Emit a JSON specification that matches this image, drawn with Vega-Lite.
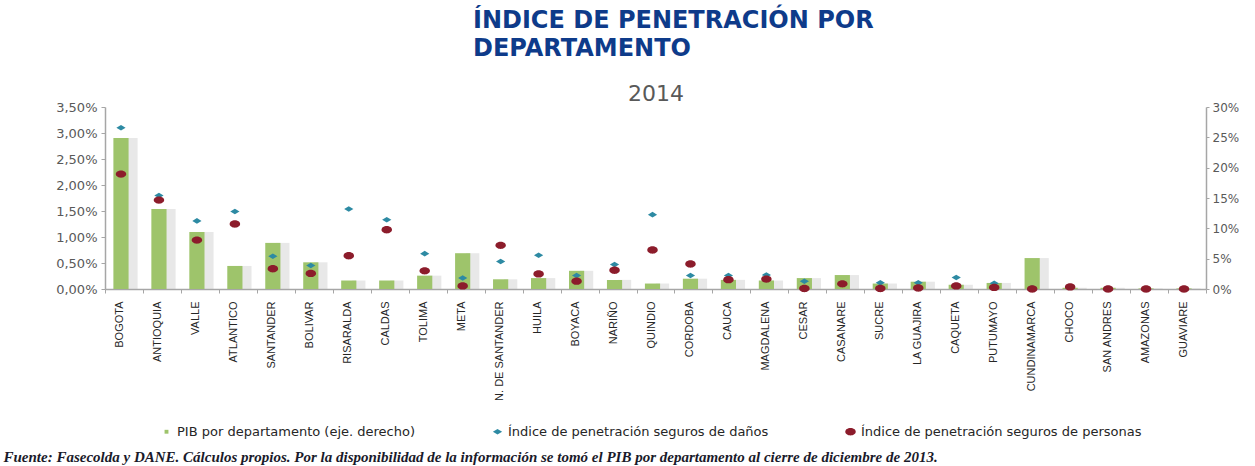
{
  "$schema": "https://vega.github.io/schema/vega-lite/v6.json",
  "width": 1101,
  "height": 182,
  "autosize": {"type": "none"},
  "padding": {"left": 105, "top": 107, "right": 49, "bottom": 177},
  "background": "white",
  "config": {
    "locale": {"number": {"decimal": ",", "thousands": ".", "grouping": [3], "currency": ["$", ""]}},
    "view": {"stroke": null},
    "font": "DejaVu Sans"
  },
  "title": {
    "text": ["ÍNDICE DE PENETRACIÓN POR", "DEPARTAMENTO"],
    "anchor": "start",
    "frame": "group",
    "dx": 368,
    "offset": 21,
    "font": "DejaVu Sans",
    "fontSize": 24,
    "fontWeight": "bold",
    "color": "#0e3b8a",
    "lineHeight": 28
  },
  "data": {
    "values": [
      {"d": "BOGOTA", "s": "pib", "v": 0.249},
      {"d": "ANTIOQUIA", "s": "pib", "v": 0.132},
      {"d": "VALLE", "s": "pib", "v": 0.094},
      {"d": "ATLANTICO", "s": "pib", "v": 0.038},
      {"d": "SANTANDER", "s": "pib", "v": 0.076},
      {"d": "BOLIVAR", "s": "pib", "v": 0.044},
      {"d": "RISARALDA", "s": "pib", "v": 0.014},
      {"d": "CALDAS", "s": "pib", "v": 0.014},
      {"d": "TOLIMA", "s": "pib", "v": 0.022},
      {"d": "META", "s": "pib", "v": 0.059},
      {"d": "N. DE SANTANDER", "s": "pib", "v": 0.016},
      {"d": "HUILA", "s": "pib", "v": 0.018},
      {"d": "BOYACA", "s": "pib", "v": 0.030},
      {"d": "NARIÑO", "s": "pib", "v": 0.015},
      {"d": "QUINDIO", "s": "pib", "v": 0.009},
      {"d": "CORDOBA", "s": "pib", "v": 0.017},
      {"d": "CAUCA", "s": "pib", "v": 0.015},
      {"d": "MAGDALENA", "s": "pib", "v": 0.014},
      {"d": "CESAR", "s": "pib", "v": 0.018},
      {"d": "CASANARE", "s": "pib", "v": 0.023},
      {"d": "SUCRE", "s": "pib", "v": 0.009},
      {"d": "LA GUAJIRA", "s": "pib", "v": 0.012},
      {"d": "CAQUETA", "s": "pib", "v": 0.007},
      {"d": "PUTUMAYO", "s": "pib", "v": 0.010},
      {"d": "CUNDINAMARCA", "s": "pib", "v": 0.051},
      {"d": "CHOCO", "s": "pib", "v": 0.002},
      {"d": "SAN ANDRES", "s": "pib", "v": 0.002},
      {"d": "AMAZONAS", "s": "pib", "v": 0.001},
      {"d": "GUAVIARE", "s": "pib", "v": 0.001},
      {"d": "BOGOTA", "s": "danos", "v": 0.0310},
      {"d": "ANTIOQUIA", "s": "danos", "v": 0.0180},
      {"d": "VALLE", "s": "danos", "v": 0.0131},
      {"d": "ATLANTICO", "s": "danos", "v": 0.0149},
      {"d": "SANTANDER", "s": "danos", "v": 0.0063},
      {"d": "BOLIVAR", "s": "danos", "v": 0.0045},
      {"d": "RISARALDA", "s": "danos", "v": 0.0154},
      {"d": "CALDAS", "s": "danos", "v": 0.0133},
      {"d": "TOLIMA", "s": "danos", "v": 0.0068},
      {"d": "META", "s": "danos", "v": 0.0021},
      {"d": "N. DE SANTANDER", "s": "danos", "v": 0.0053},
      {"d": "HUILA", "s": "danos", "v": 0.0065},
      {"d": "BOYACA", "s": "danos", "v": 0.0026},
      {"d": "NARIÑO", "s": "danos", "v": 0.0047},
      {"d": "QUINDIO", "s": "danos", "v": 0.0143},
      {"d": "CORDOBA", "s": "danos", "v": 0.0026},
      {"d": "CAUCA", "s": "danos", "v": 0.0026},
      {"d": "MAGDALENA", "s": "danos", "v": 0.0027},
      {"d": "CESAR", "s": "danos", "v": 0.0015},
      {"d": "CASANARE", "s": "danos", "v": 0.0010},
      {"d": "SUCRE", "s": "danos", "v": 0.0012},
      {"d": "LA GUAJIRA", "s": "danos", "v": 0.0012},
      {"d": "CAQUETA", "s": "danos", "v": 0.0022},
      {"d": "PUTUMAYO", "s": "danos", "v": 0.0011},
      {"d": "CUNDINAMARCA", "s": "danos", "v": 0.0002},
      {"d": "CHOCO", "s": "danos", "v": 0.0003},
      {"d": "SAN ANDRES", "s": "danos", "v": 0.0001},
      {"d": "AMAZONAS", "s": "danos", "v": 0.0001},
      {"d": "GUAVIARE", "s": "danos", "v": 0.0001},
      {"d": "BOGOTA", "s": "personas", "v": 0.0221},
      {"d": "ANTIOQUIA", "s": "personas", "v": 0.0171},
      {"d": "VALLE", "s": "personas", "v": 0.0094},
      {"d": "ATLANTICO", "s": "personas", "v": 0.0125},
      {"d": "SANTANDER", "s": "personas", "v": 0.0039},
      {"d": "BOLIVAR", "s": "personas", "v": 0.0030},
      {"d": "RISARALDA", "s": "personas", "v": 0.0064},
      {"d": "CALDAS", "s": "personas", "v": 0.0114},
      {"d": "TOLIMA", "s": "personas", "v": 0.0035},
      {"d": "META", "s": "personas", "v": 0.0006},
      {"d": "N. DE SANTANDER", "s": "personas", "v": 0.0084},
      {"d": "HUILA", "s": "personas", "v": 0.0029},
      {"d": "BOYACA", "s": "personas", "v": 0.0015},
      {"d": "NARIÑO", "s": "personas", "v": 0.0036},
      {"d": "QUINDIO", "s": "personas", "v": 0.0075},
      {"d": "CORDOBA", "s": "personas", "v": 0.0048},
      {"d": "CAUCA", "s": "personas", "v": 0.0018},
      {"d": "MAGDALENA", "s": "personas", "v": 0.0019},
      {"d": "CESAR", "s": "personas", "v": 0.0001},
      {"d": "CASANARE", "s": "personas", "v": 0.0010},
      {"d": "SUCRE", "s": "personas", "v": 0.0001},
      {"d": "LA GUAJIRA", "s": "personas", "v": 0.0002},
      {"d": "CAQUETA", "s": "personas", "v": 0.0006},
      {"d": "PUTUMAYO", "s": "personas", "v": 0.0003},
      {"d": "CUNDINAMARCA", "s": "personas", "v": 0.0000},
      {"d": "CHOCO", "s": "personas", "v": 0.0004},
      {"d": "SAN ANDRES", "s": "personas", "v": 0.0000},
      {"d": "AMAZONAS", "s": "personas", "v": 0.0000},
      {"d": "GUAVIARE", "s": "personas", "v": 0.0000}
    ]
  },
  "layer": [
    {
      "transform": [{"filter": "datum.s == 'pib'"}],
      "mark": {"type": "bar", "width": {"band": 0.35}, "xOffset": 7, "fill": "#bdbdbd", "opacity": 0.35},
      "encoding": {
        "x": {
          "field": "d",
          "type": "nominal",
          "axis": null,
          "scale": {
            "domain": ["BOGOTA", "ANTIOQUIA", "VALLE", "ATLANTICO", "SANTANDER", "BOLIVAR", "RISARALDA", "CALDAS", "TOLIMA", "META", "N. DE SANTANDER", "HUILA", "BOYACA", "NARIÑO", "QUINDIO", "CORDOBA", "CAUCA", "MAGDALENA", "CESAR", "CASANARE", "SUCRE", "LA GUAJIRA", "CAQUETA", "PUTUMAYO", "CUNDINAMARCA", "CHOCO", "SAN ANDRES", "AMAZONAS", "GUAVIARE"],
            "paddingInner": 0,
            "paddingOuter": 0
          }
        },
        "y": {"field": "v", "type": "quantitative", "scale": {"domain": [0, 0.3]}, "axis": null}
      }
    },
    {
      "transform": [{"filter": "datum.s == 'pib'"}],
      "mark": {"type": "bar", "width": {"band": 0.4}, "xOffset": -3},
      "encoding": {
        "x": {
          "field": "d",
          "type": "nominal",
          "axis": {
            "orient": "bottom",
            "labelAngle": -90,
            "labelFont": "Liberation Sans",
            "labelFontSize": 11,
            "labelColor": "#262626",
            "labelPadding": 8,
            "labelOffset": -4,
            "tickBand": "extent",
            "tickSize": 4,
            "tickColor": "#a6a6a6",
            "domainColor": "#a6a6a6",
            "domainWidth": 1.5,
            "title": "Fuente: Fasecolda y DANE. Cálculos propios. Por la disponibilidad de la información se tomó el PIB por departamento al cierre de diciembre de 2013.",
            "titleAnchor": "start",
            "titleAlign": "left",
            "titleBaseline": "alphabetic",
            "titleX": -102,
            "titleY": 172,
            "titleFont": "Liberation Serif",
            "titleFontSize": 15,
            "titleFontWeight": "bold",
            "titleFontStyle": "italic",
            "titleColor": "#1a1a2a"
          }
        },
        "y": {
          "field": "v",
          "type": "quantitative",
          "scale": {"domain": [0, 0.3]},
          "axis": {
            "orient": "right",
            "values": [0, 0.05, 0.1, 0.15, 0.2, 0.25, 0.3],
            "format": ".0%",
            "title": null,
            "grid": false,
            "labelFontSize": 12,
            "labelColor": "#595959",
            "tickSize": 3,
            "tickColor": "#a6a6a6",
            "domainColor": "#a6a6a6",
            "domainWidth": 1.5,
            "labelPadding": 3
          }
        },
        "color": {
          "field": "s",
          "type": "nominal",
          "scale": {"domain": ["pib", "danos", "personas"], "range": ["#9ec46b", "#2d8aa3", "#8c1c2b"]},
          "legend": {
            "orient": "none",
            "direction": "horizontal",
            "legendX": 55,
            "legendY": 318,
            "title": null,
            "labelFontSize": 13,
            "labelLimit": 0,
            "labelColor": "#262626",
            "symbolSize": 90,
            "symbolStrokeWidth": 0,
            "columnPadding": 75,
            "labelExpr": "datum.label == 'pib' ? 'PIB por departamento (eje. derecho)' : datum.label == 'danos' ? 'Índice de penetración seguros de daños' : 'Índice de penetración seguros de personas'"
          }
        }
      }
    },
    {
      "transform": [{"filter": "datum.s != 'pib'"}],
      "mark": {"type": "point", "filled": true, "opacity": 1, "xOffset": -3},
      "encoding": {
        "x": {
          "field": "d",
          "type": "nominal",
          "axis": {
            "orient": "top",
            "labels": false,
            "ticks": false,
            "domain": false,
            "title": "2014",
            "titleFont": "DejaVu Sans",
            "titleFontSize": 22,
            "titleFontWeight": "normal",
            "titleColor": "#595959",
            "titleBaseline": "alphabetic",
            "titleY": -7
          }
        },
        "y": {
          "field": "v",
          "type": "quantitative",
          "scale": {"domain": [0, 0.035]},
          "axis": {
            "orient": "left",
            "values": [0, 0.005, 0.01, 0.015, 0.02, 0.025, 0.03, 0.035],
            "format": ".2%",
            "title": null,
            "grid": false,
            "labelFontSize": 13,
            "labelColor": "#595959",
            "tickSize": 4,
            "tickColor": "#a6a6a6",
            "domainColor": "#a6a6a6",
            "domainWidth": 1.5,
            "labelPadding": 4
          }
        },
        "color": {"field": "s", "type": "nominal"},
        "shape": {
          "field": "s",
          "type": "nominal",
          "scale": {"domain": ["pib", "danos", "personas"], "range": ["M-0.5,-0.5L0.5,-0.5L0.5,0.5L-0.5,0.5Z", "M-1,0L0,-0.6L1,0L0,0.6Z", "M-1,0A1,0.7,0,1,1,1,0A1,0.7,0,1,1,-1,0Z"]}
        },
        "size": {
          "field": "s",
          "type": "nominal",
          "scale": {"domain": ["pib", "danos", "personas"], "range": [60, 110, 150]},
          "legend": null
        }
      }
    }
  ],
  "resolve": {"scale": {"y": "independent"}, "axis": {"x": "independent"}}
}
